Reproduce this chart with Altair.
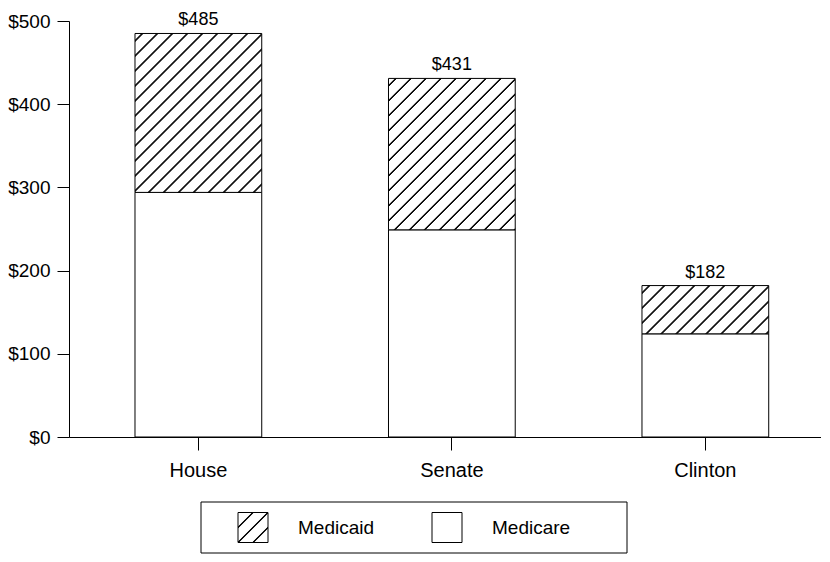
import altair as alt
import pandas as pd

# ---- data ----
categories = ["House", "Senate", "Clinton"]
medicare = [294, 249, 124]
totals = [485, 431, 182]
medicaid = [t - m for t, m in zip(totals, medicare)]
y_ticks = [0, 100, 200, 300, 400, 500]
legend_items = ["Medicaid", "Medicare"]

# ---- layout constants (styles / sizes only) ----
FONT = "Liberation Sans"
PLOT_W, PLOT_H, Y_MAX = 752, 416, 500
PAD_IN, PAD_OUT, ALIGN = 0.5, 0.2333, 0.558
PAD = {"left": 61, "top": 13, "right": 0, "bottom": 117}
SYM = 30
# legend frame and symbol positions, in pixels relative to the plot origin
BOX_X, BOX_X2, BOX_Y, BOX_Y2 = 132, 558, 481, 532
LEG_RANGE = [184, 378]

df = pd.DataFrame({
    "cat": categories,
    "medicare": medicare,
    "medicaid": medicaid,
    "top": [m + d for m, d in zip(medicare, medicaid)],
    "label": totals,
})
leg_df = pd.DataFrame({"item": legend_items})


def hatch(W, H, spacing=15.0, start=None, lw=0.75, soft=0.8):
    """Diagonal '/' hatch as a linear gradient in bounding-box units."""
    S = W + H
    k = S / (W * W + H * H)
    x2, y2 = W * k, H * k
    stops = [(0.0, "white")]
    c = spacing / 2 if start is None else start
    while c < S:
        for o, col in ((c - lw - soft, "white"), (c - lw, "#111111"),
                       (c + lw, "#111111"), (c + lw + soft, "white")):
            stops.append((min(1.0, max(0.0, o / S)), col))
        c += spacing
    stops.append((1.0, "white"))
    out, last = [], 0.0
    for o, col in stops:
        o = max(o, last)
        last = o
        out.append(alt.GradientStop(offset=round(o, 5), color=col))
    return alt.LinearGradient(gradient="linear", stops=out,
                              x1=0, y1=0, x2=round(x2, 5), y2=round(y2, 5))


step = PLOT_W / (len(categories) - PAD_IN + 2 * PAD_OUT)
bw = step * (1 - PAD_IN)
px = PLOT_H / Y_MAX

xenc = alt.X("cat:N", sort=categories,
             scale=alt.Scale(paddingInner=PAD_IN, paddingOuter=PAD_OUT,
                             align=ALIGN),
             axis=alt.Axis(title=None, labelAngle=0, labelFontSize=20,
                           labelColor="black", domainColor="black",
                           tickColor="black", tickSize=13, labelPadding=10,
                           labelFont=FONT))
yscale = alt.Scale(domain=[0, Y_MAX], nice=False)
yaxis = alt.Axis(title=None, values=y_ticks, format="$,.0f", grid=False,
                 labelFontSize=19, labelColor="black", domainColor="black",
                 tickColor="black", tickSize=12, labelPadding=7,
                 labelFont=FONT)

base = alt.Chart(df).encode(x=xenc)

medicare_bars = base.mark_bar(fill="white", stroke="black", strokeWidth=1).encode(
    y=alt.Y("medicare:Q", scale=yscale, axis=yaxis))

layers = [medicare_bars]
for i, cat in enumerate(categories):
    g = hatch(bw, medicaid[i] * px)
    layers.append(
        base.transform_filter(alt.datum.cat == cat)
        .mark_bar(fill=g, stroke="black", strokeWidth=1)
        .encode(y=alt.Y("medicare:Q", scale=yscale), y2="top:Q")
    )

labels = base.mark_text(dy=-8, fontSize=18, color="black", font=FONT,
                        baseline="alphabetic").encode(
    y=alt.Y("top:Q", scale=yscale),
    text=alt.Text("label:Q", format="$,.0f"))
layers.append(labels)

bars = alt.layer(*layers)

# ---- legend (below the plot) ----
lx = alt.X("item:N", sort=legend_items,
           scale=alt.Scale(type="point", padding=0, range=LEG_RANGE),
           axis=None)
ly = alt.value((BOX_Y + BOX_Y2) / 2)
lbase = alt.Chart(leg_df).encode(x=lx, y=ly)
frame = alt.Chart(leg_df.head(1)).mark_rect(
    fill="transparent", stroke="black", strokeWidth=1).encode(
    x=alt.value(BOX_X), x2=alt.value(BOX_X2),
    y=alt.value(BOX_Y), y2=alt.value(BOX_Y2))
sym_hatch = lbase.transform_filter(alt.datum.item == "Medicaid").mark_square(
    size=SYM * SYM, fill=hatch(SYM, SYM, spacing=15, start=15),
    stroke="black", strokeWidth=1, opacity=1, fillOpacity=1)
sym_plain = lbase.transform_filter(alt.datum.item == "Medicare").mark_square(
    size=SYM * SYM, fill="white", stroke="black", strokeWidth=1,
    opacity=1, fillOpacity=1)
ltext = lbase.mark_text(align="left", dx=45, fontSize=19, color="black",
                        font=FONT, baseline="middle").encode(text="item:N")
legend = alt.layer(sym_hatch, sym_plain, ltext)

chart = alt.layer(bars, frame, legend).resolve_scale(
    x="independent"
).properties(
    width=PLOT_W, height=PLOT_H,
    autosize=alt.AutoSizeParams(type="none"),
    padding=PAD,
).configure(font=FONT).configure_view(strokeWidth=0)

chart.save("out.html", embed_options={"renderer": "svg", "actions": False})
